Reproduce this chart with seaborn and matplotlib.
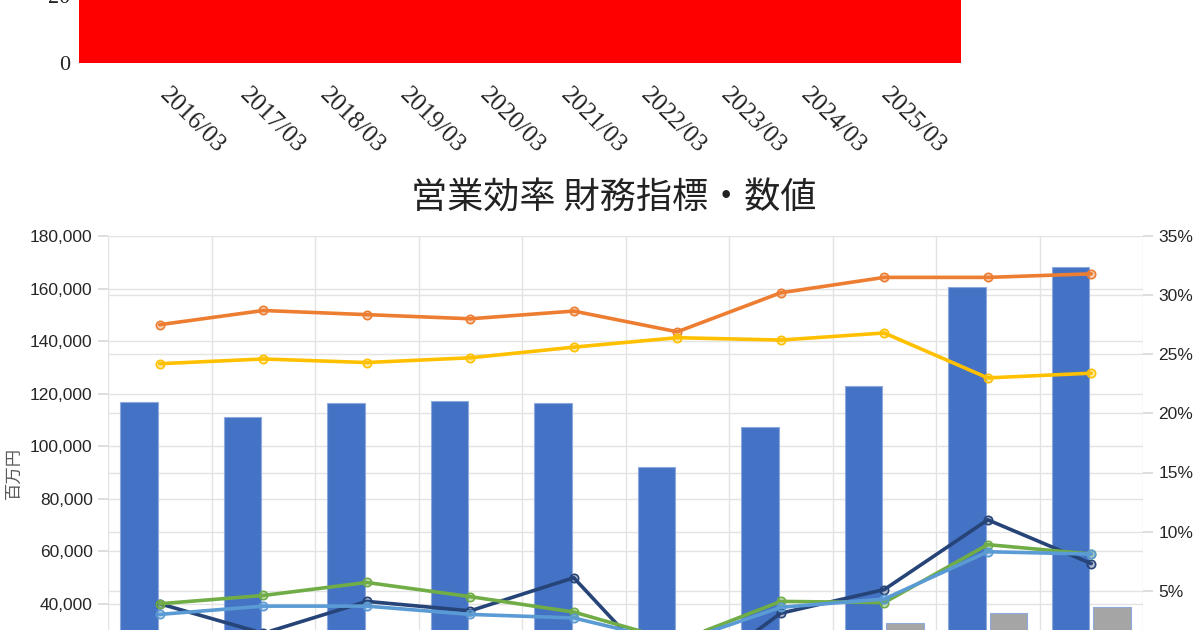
import numpy as np
import pandas as pd
import seaborn as sns
import matplotlib.pyplot as plt
from matplotlib.colors import to_rgba

# data
periods = ['2016/03', '2017/03', '2018/03', '2019/03', '2020/03',
           '2021/03', '2022/03', '2023/03', '2024/03', '2025/03']

# top chart (only its lower part is visible)
top_values = [95, 90, 92, 94, 93, 80, 88, 97, 110, 115]

# bottom chart, bars in 百万円
blue_bars = [117000, 111000, 116600, 117100, 116400, 92200, 107400, 123000, 160600, 168200]
gray_bars = [26000, 25000, 27000, 26500, 25500, 18000, 24000, 32700, 36500, 38800]

# bottom chart, lines in %
orange_line = [27.5, 28.7, 28.35, 28.0, 28.65, 26.9, 30.2, 31.5, 31.5, 31.8]
yellow_line = [24.2, 24.6, 24.3, 24.7, 25.6, 26.4, 26.2, 26.8, 23.0, 23.4]
navy_line = [3.9, 1.4, 4.1, 3.3, 6.1, -3.3, 3.1, 5.1, 11.0, 7.3]
green_line = [3.9, 4.6, 5.7, 4.5, 3.2, 0.7, 4.1, 4.0, 8.9, 8.1]
lightblue_line = [3.0, 3.7, 3.7, 3.0, 2.7, 0.6, 3.6, 4.3, 8.3, 8.1]

title = '営業効率 財務指標・数値'
left_label = '百万円'

sns.set_theme(style='white')
plt.rcParams['font.family'] = ['Liberation Sans', 'Noto Sans CJK JP', 'DejaVu Sans']
cjk = ['Noto Sans CJK JP', 'DejaVu Sans']

fig = plt.figure(figsize=(12, 6.3), dpi=100)

# ---- top chart (cut off by the top edge) ----
ax_top = fig.add_axes([79 / 1200, 0.9, 882 / 1200, 202 / 630])
top_df = pd.DataFrame({'period': periods, 'value': top_values})
sns.barplot(data=top_df, x='period', y='value', color='#FF0000', saturation=1,
            width=1.0, linewidth=0, edgecolor='#FF0000', ax=ax_top)
ax_top.set_xlim(-0.5, len(periods) - 0.5)
ax_top.set_ylim(0, 60)
ax_top.set_yticks([0, 20, 40, 60])
# labels sit on an 11-slot grid, nudged a little right
slot = len(periods) / (len(periods) + 1)
nudge = 0.13
ax_top.set_xticks([-0.5 + slot * (k + 1) + nudge for k in range(len(periods))])
ax_top.set_xticklabels(periods, rotation=-45, ha='left', va='top',
                       rotation_mode='anchor', family='Liberation Serif',
                       fontsize=18, color='#222222')
for lab in ax_top.get_yticklabels():
    lab.set_family('Liberation Serif')
    lab.set_fontsize(16)
    lab.set_color('#222222')
ax_top.tick_params(axis='x', length=0, pad=15)
ax_top.tick_params(axis='y', length=0, pad=6)
ax_top.set_xlabel('')
ax_top.set_ylabel('')
for s in ax_top.spines.values():
    s.set_visible(False)

# ---- bottom combo chart (cut off by the bottom edge) ----
ax = fig.add_axes([108 / 1200, (630 - 709) / 630, 1035 / 1200, 473 / 630])
bar_df = pd.DataFrame({
    'period': periods * 2,
    'series': ['blue'] * len(periods) + ['gray'] * len(periods),
    'value': blue_bars + gray_bars,
})
sns.barplot(data=bar_df, x='period', y='value', hue='series',
            palette=['#4472C4', '#A5A5A5'], saturation=1, width=0.8, gap=0.1,
            edgecolor='#8EA9DB', linewidth=0.8, legend=False, ax=ax, zorder=2)
ax.set_xlim(-0.5, len(periods) - 0.5)
ax.set_ylim(0, 180000)
ax.set_yticks(np.arange(0, 180001, 20000))
ax.set_yticklabels([f'{v:,}' for v in range(0, 180001, 20000)])

# right axis lines
ax2 = ax.twinx()
r_lo, r_hi = -5, 35
ax2.set_ylim(r_lo, r_hi)
r_ticks = np.arange(5, 36, 5)
ax2.set_yticks(r_ticks)
ax2.set_yticklabels([f'{t}%' for t in r_ticks])

# grids: both sets drawn on the primary axis so they stay behind the bars
ax.set_yticks([(t - r_lo) / (r_hi - r_lo) * 180000 for t in r_ticks], minor=True)
ax.set_xticks(np.arange(-0.5, len(periods), 1.0), minor=True)
ax.grid(True, which='both', color='#e3e3e3', linewidth=1)
ax.grid(False, which='major', axis='x')
ax.set_axisbelow(True)

idx = np.arange(len(periods))
line_sets = [
    (orange_line, '#ED7D31'),
    (yellow_line, '#FFC000'),
    (navy_line, '#264478'),
    (green_line, '#70AD47'),
    (lightblue_line, '#5B9BD5'),
]
for vals, c in line_sets:
    sns.lineplot(x=idx, y=vals, color=c, linewidth=2.6, marker='o', markersize=6,
                 markerfacecolor=to_rgba(c, 0.35), markeredgecolor=c,
                 markeredgewidth=1.2, ax=ax2)

ax.tick_params(axis='y', which='major', length=7, color='#d9d9d9', pad=4,
               labelsize=12.5, labelcolor='#262626', left=True)
ax.tick_params(axis='y', which='minor', length=0)
ax.tick_params(axis='x', which='both', length=0, labelbottom=False)
ax2.tick_params(axis='y', length=7, color='#d9d9d9', pad=4,
                labelsize=12.5, labelcolor='#262626', right=True)
ax.set_xlabel('')
ax.set_ylabel('')
ax2.set_ylabel('')
for a in (ax, ax2):
    for s in a.spines.values():
        s.set_visible(False)

fig.text(14 / 1200, (630 - 473) / 630, left_label, rotation=90, ha='center',
         va='center', fontsize=12.5, color='#595959', family=cjk)
fig.text(613.5 / 1200, (630 - 199) / 630, title, ha='center', va='center',
         fontsize=26, color='#222222', family=cjk)

plt.savefig('out.png', dpi=100)
